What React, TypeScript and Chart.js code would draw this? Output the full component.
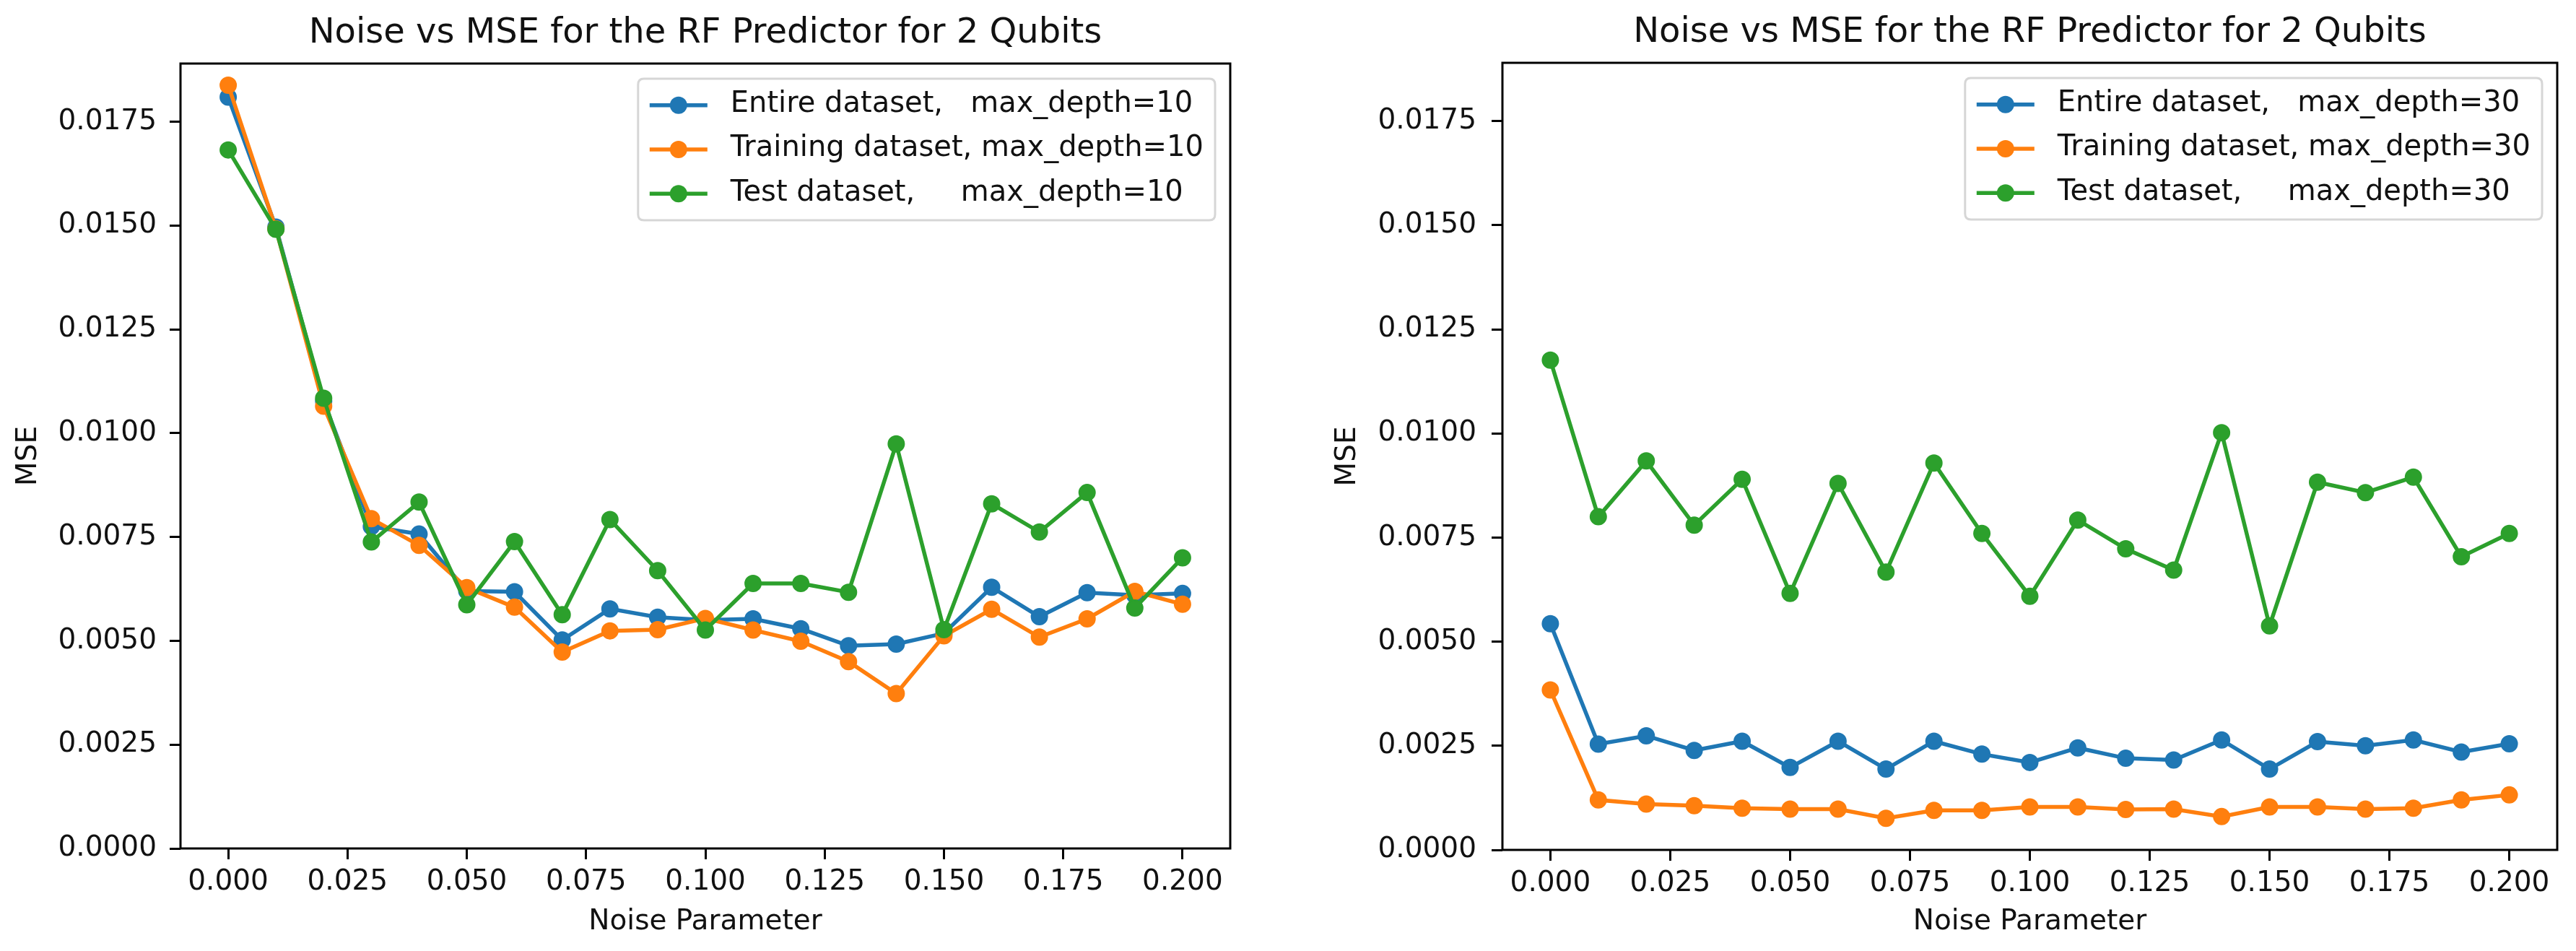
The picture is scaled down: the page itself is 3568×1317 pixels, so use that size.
import React, { useEffect, useRef } from "react";
import { Chart, registerables } from "chart.js";

Chart.register(...registerables);

// ---------- data ----------
const NOISE = [0.0, 0.01, 0.02, 0.03, 0.04, 0.05, 0.06, 0.07, 0.08, 0.09, 0.1, 0.11, 0.12, 0.13, 0.14, 0.15, 0.16, 0.17, 0.18, 0.19, 0.2];
const X_TICKS = [0, 0.025, 0.05, 0.075, 0.1, 0.125, 0.15, 0.175, 0.2];
const Y_TICKS = [0, 0.0025, 0.005, 0.0075, 0.01, 0.0125, 0.015, 0.0175];

const ENTIRE_D10 = [0.01809, 0.01496, 0.01077, 0.00775, 0.00757, 0.0062, 0.00618, 0.00502, 0.00577, 0.00557, 0.0055, 0.00553, 0.00529, 0.00488, 0.00492, 0.00518, 0.00629, 0.00558, 0.00616, 0.0061, 0.00614];
const TRAIN_D10 = [0.01838, 0.01492, 0.01065, 0.00794, 0.0073, 0.00628, 0.00581, 0.00473, 0.00524, 0.00527, 0.00554, 0.00526, 0.00499, 0.0045, 0.00373, 0.00512, 0.00576, 0.00509, 0.00553, 0.00619, 0.00588];
const TEST_D10 = [0.01682, 0.01491, 0.01084, 0.00738, 0.00834, 0.00587, 0.00739, 0.00563, 0.00792, 0.00669, 0.00526, 0.00638, 0.00638, 0.00617, 0.00974, 0.00527, 0.0083, 0.00762, 0.00857, 0.00579, 0.007];

const ENTIRE_D30 = [0.00543, 0.00254, 0.00274, 0.00239, 0.00261, 0.00198, 0.00261, 0.00194, 0.00261, 0.0023, 0.0021, 0.00245, 0.0022, 0.00216, 0.00264, 0.00194, 0.0026, 0.0025, 0.00264, 0.00235, 0.00255];
const TRAIN_D30 = [0.00384, 0.0012, 0.0011, 0.00106, 0.001, 0.00098, 0.00098, 0.00076, 0.00095, 0.00095, 0.00103, 0.00103, 0.00097, 0.00098, 0.0008, 0.00103, 0.00103, 0.00098, 0.001, 0.0012, 0.00132];
const TEST_D30 = [0.01176, 0.008, 0.00934, 0.0078, 0.0089, 0.00616, 0.0088, 0.00667, 0.00929, 0.0076, 0.00609, 0.00792, 0.00723, 0.00672, 0.01002, 0.00538, 0.00883, 0.00858, 0.00895, 0.00704, 0.0076];

const LABELS_D10 = ["Entire dataset,   max_depth=10", "Training dataset, max_depth=10", "Test dataset,     max_depth=10"];
const LABELS_D30 = ["Entire dataset,   max_depth=30", "Training dataset, max_depth=30", "Test dataset,     max_depth=30"];

const TITLE = "Noise vs MSE for the RF Predictor for 2 Qubits";
const X_LABEL = "Noise Parameter";
const Y_LABEL = "MSE";

const COLORS = ["#1f77b4", "#ff7f0e", "#2ca02c"];

const FONT = '"DejaVu Sans", "Liberation Sans", sans-serif';

// ---------- plugins ----------
const framePlugin = {
  id: "mplFrame",
  afterDatasetsDraw(chart: any) {
    const { ctx, chartArea } = chart;
    ctx.save();
    ctx.strokeStyle = "#000";
    ctx.lineWidth = 3;
    ctx.strokeRect(chartArea.left, chartArea.top, chartArea.right - chartArea.left, chartArea.bottom - chartArea.top);
    ctx.restore();
  },
};

const legendPlugin = {
  id: "mplLegend",
  afterDraw(chart: any) {
    const { ctx, chartArea } = chart;
    const datasets = chart.data.datasets;
    const fs = 40;
    const pad = 16;
    const handle = 80;
    const gap = 32;
    const rowH = 41.3;
    const spacing = 20;
    ctx.save();
    ctx.font = `${fs}px ${FONT}`;
    let textW = 0;
    datasets.forEach((d: any) => {
      textW = Math.max(textW, ctx.measureText(d.label).width);
    });
    const w = pad + handle + gap + textW + pad;
    const h = pad * 2 + rowH * datasets.length + spacing * (datasets.length - 1);
    const right = chartArea.right - 21;
    const top = chartArea.top + 21;
    const left = right - w;
    const r = 8;
    ctx.beginPath();
    ctx.moveTo(left + r, top);
    ctx.lineTo(right - r, top);
    ctx.quadraticCurveTo(right, top, right, top + r);
    ctx.lineTo(right, top + h - r);
    ctx.quadraticCurveTo(right, top + h, right - r, top + h);
    ctx.lineTo(left + r, top + h);
    ctx.quadraticCurveTo(left, top + h, left, top + h - r);
    ctx.lineTo(left, top + r);
    ctx.quadraticCurveTo(left, top, left + r, top);
    ctx.closePath();
    ctx.fillStyle = "rgba(255,255,255,0.8)";
    ctx.fill();
    ctx.strokeStyle = "rgba(204,204,204,0.8)";
    ctx.lineWidth = 3;
    ctx.stroke();

    datasets.forEach((d: any, i: number) => {
      const y = top + pad + rowH / 2 + i * (rowH + spacing);
      const x0 = left + pad;
      ctx.strokeStyle = d.borderColor;
      ctx.lineWidth = 5.5;
      ctx.beginPath();
      ctx.moveTo(x0, y);
      ctx.lineTo(x0 + handle, y);
      ctx.stroke();
      ctx.fillStyle = d.borderColor;
      ctx.beginPath();
      ctx.arc(x0 + handle / 2, y, 12, 0, Math.PI * 2);
      ctx.fill();
      ctx.fillStyle = "#111";
      ctx.textAlign = "left";
      ctx.textBaseline = "middle";
      ctx.fillText(d.label, x0 + handle + gap, y - 1);
    });
    ctx.restore();
  },
};

type PanelCfg = {
  series: number[][];
  labels: string[];
  yWidth: number;
  rightPad: number;
  titlePadTop: number;
  titlePadBottom: number;
  xHeight: number;
  yTitlePad: number;
  yTickPad: number;
};

function Panel({ cfg }: { cfg: PanelCfg }) {
  const ref = useRef<HTMLCanvasElement | null>(null);
  useEffect(() => {
    if (!ref.current) return;
    const datasets = cfg.series.map((arr, i) => ({
      label: cfg.labels[i],
      data: NOISE.map((x, k) => ({ x, y: arr[k] })),
      borderColor: COLORS[i],
      backgroundColor: COLORS[i],
      pointBackgroundColor: COLORS[i],
      pointBorderColor: COLORS[i],
      borderWidth: 5.5,
      pointRadius: 11,
      pointBorderWidth: 2,
      pointHoverRadius: 11,
      tension: 0,
      fill: false,
      order: 2 - i,
    }));
    const chart = new Chart(ref.current, {
      type: "line",
      data: { datasets },
      options: {
        animation: false,
        responsive: false,
        devicePixelRatio: 1,
        layout: { padding: { left: 0, right: cfg.rightPad, top: 0, bottom: 0 } },
        plugins: {
          legend: { display: false },
          tooltip: { enabled: false },
          title: {
            display: true,
            text: TITLE,
            fullSize: false,
            color: "#111",
            font: { family: FONT, size: 48, weight: "normal", lineHeight: 1.2 },
            padding: { top: cfg.titlePadTop, bottom: cfg.titlePadBottom },
          },
        },
        scales: {
          x: {
            type: "linear",
            min: -0.01,
            max: 0.21,
            afterBuildTicks: (scale: any) => {
              scale.ticks = X_TICKS.map((v) => ({ value: v }));
            },
            afterFit: (scale: any) => {
              scale.height = cfg.xHeight;
            },
            ticks: {
              autoSkip: false,
              maxRotation: 0,
              minRotation: 0,
              padding: 8,
              color: "#111",
              font: { family: FONT, size: 39 },
              callback: (v: any) => Number(v).toFixed(3),
            },
            grid: {
              display: true,
              drawOnChartArea: false,
              drawTicks: true,
              tickLength: 15,
              tickWidth: 3,
              tickColor: "#000",
              color: "#000",
            },
            border: { display: false },
            title: {
              display: true,
              text: X_LABEL,
              color: "#111",
              font: { family: FONT, size: 39, lineHeight: 1.2 },
              padding: { top: 0, bottom: 17 },
            },
          },
          y: {
            type: "linear",
            min: 0,
            max: 0.0189,
            afterBuildTicks: (scale: any) => {
              scale.ticks = Y_TICKS.map((v) => ({ value: v }));
            },
            afterFit: (scale: any) => {
              scale.width = cfg.yWidth;
            },
            ticks: {
              autoSkip: false,
              padding: cfg.yTickPad,
              color: "#111",
              font: { family: FONT, size: 39 },
              callback: (v: any) => Number(v).toFixed(4),
            },
            grid: {
              display: true,
              drawOnChartArea: false,
              drawTicks: true,
              tickLength: 15,
              tickWidth: 3,
              tickColor: "#000",
              color: "#000",
            },
            border: { display: false },
            title: {
              display: true,
              text: Y_LABEL,
              color: "#111",
              font: { family: FONT, size: 39, lineHeight: 1.2 },
              padding: { top: cfg.yTitlePad, bottom: 0 },
            },
          },
        },
      } as any,
      plugins: [framePlugin, legendPlugin],
    });
    return () => chart.destroy();
  }, [cfg]);
  return <canvas ref={ref} width={1784} height={1317} style={{ width: 1784, height: 1317, display: "block" }} />;
}

const LEFT: PanelCfg = {
  series: [ENTIRE_D10, TRAIN_D10, TEST_D10],
  labels: LABELS_D10,
  yWidth: 250,
  rightPad: 80,
  titlePadTop: 17.6,
  titlePadBottom: 12.8,
  xHeight: 142,
  yTitlePad: 16.6,
  yTickPad: 18,
};

const RIGHT: PanelCfg = {
  series: [ENTIRE_D30, TRAIN_D30, TEST_D30],
  labels: LABELS_D30,
  yWidth: 297,
  rightPad: 26,
  titlePadTop: 17,
  titlePadBottom: 12.4,
  xHeight: 140,
  yTitlePad: 59.6,
  yTickPad: 21,
};

export default function App() {
  return (
    <div
      style={{
        position: "absolute",
        left: 0,
        top: 0,
        width: 3568,
        height: 1317,
        background: "#fff",
        display: "flex",
        flexDirection: "row",
      }}
    >
      <Panel cfg={LEFT} />
      <Panel cfg={RIGHT} />
    </div>
  );
}
